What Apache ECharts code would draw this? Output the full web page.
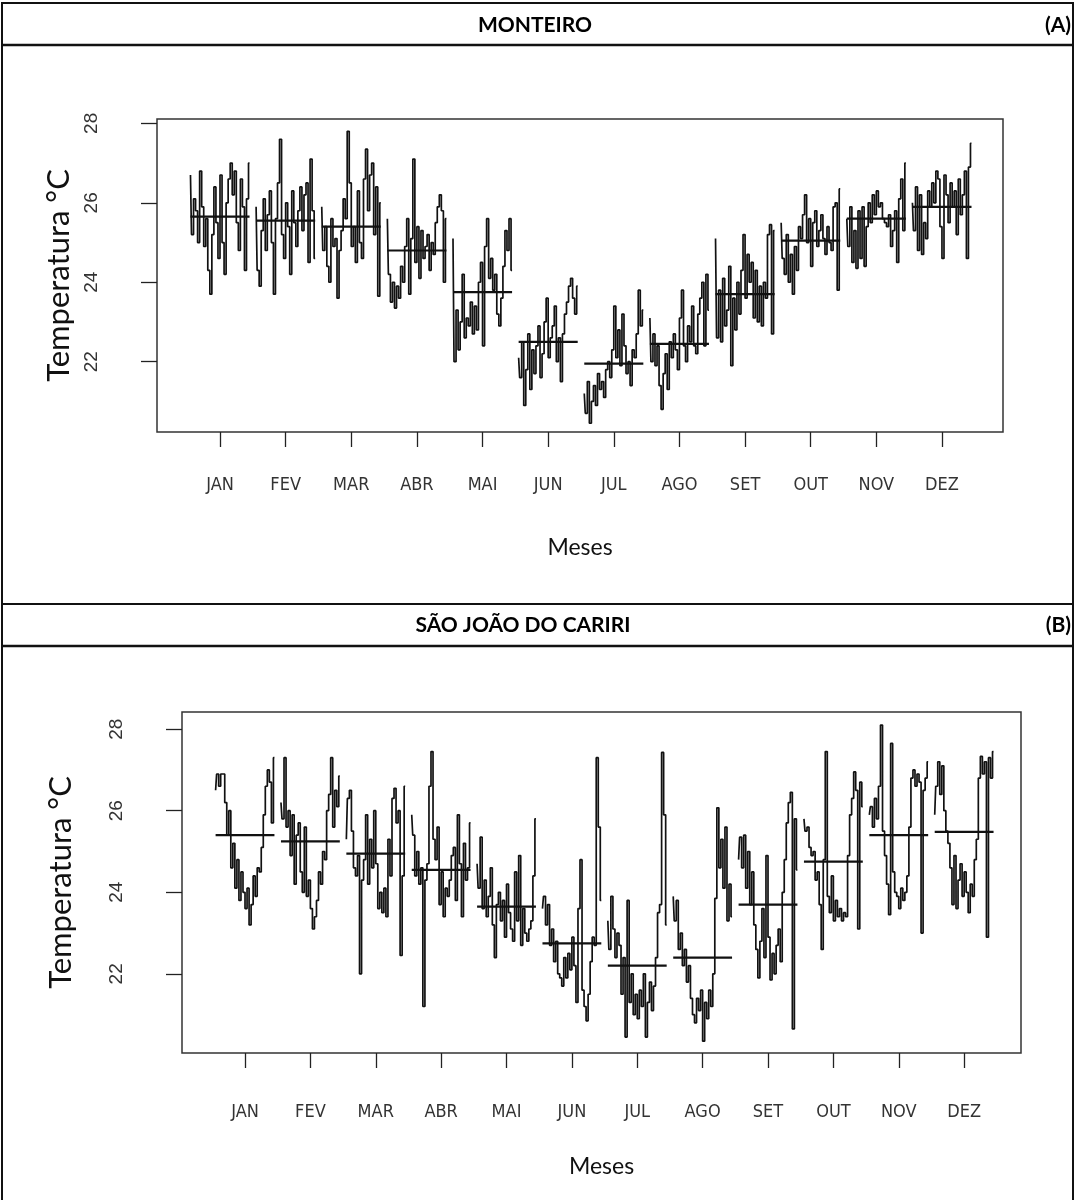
<!DOCTYPE html>
<html><head><meta charset="utf-8">
<script src="https://cdn.jsdelivr.net/npm/echarts@6/dist/echarts.min.js"></script>
<style>html,body{margin:0;padding:0;background:#fff}#c{width:1075px;height:1200px}</style>
</head><body><div id="c"></div>
<script>
// ---------- DATA ----------
const monthLabels = ['JAN','FEV','MAR','ABR','MAI','JUN','JUL','AGO','SET','OUT','NOV','DEZ'];
const yTicks = [22, 24, 26, 28];

// Monteiro (A)
const mtJAN = [26.7,25.2,26.1,25.8,25.0,26.8,25.9,24.9,25.6,24.3,23.7,25.2,26.4,25.5,24.6,26.7,25.0,24.2,26.0,26.6,27.0,26.2,26.8,25.5,24.8,26.6,25.9,24.3,26.1,27.0];
const mtFEV = [25.9,24.3,23.9,25.3,26.1,24.8,25.7,26.3,25.0,23.7,25.6,26.5,27.6,25.2,24.6,26.0,25.4,24.2,26.3,25.5,24.9,25.8,26.4,25.3,26.2,26.5,24.5,27.1,25.8,24.6];
const mtMAR = [25.9,24.8,25.4,24.4,24.0,25.6,24.9,25.1,23.6,24.8,25.3,26.1,25.6,27.8,26.5,24.9,25.4,24.5,26.3,25.0,24.6,26.6,27.35,25.8,26.7,27.0,25.2,26.4,23.65,26.0];
const mtABR = [25.6,24.2,23.5,24.0,23.35,23.9,23.6,24.4,24.0,24.9,25.6,23.7,25.1,27.1,24.5,25.4,24.1,25.3,24.6,24.9,25.2,24.3,25.0,24.7,25.5,25.9,26.2,25.8,24.0,25.6];
const mtMAI = [25.1,22.0,23.3,22.3,23.0,24.2,22.6,23.1,22.9,23.5,22.7,23.4,22.8,24.0,24.5,22.4,24.9,25.6,24.1,24.6,23.8,24.2,23.2,22.9,23.6,24.4,25.3,24.8,25.6,24.3];
const mtJUN = [22.1,21.6,22.5,20.9,21.8,22.7,21.3,22.3,21.7,22.4,22.9,21.6,22.2,23.0,23.6,22.1,22.6,22.9,23.4,22.0,22.6,21.5,22.7,23.2,23.5,23.9,24.1,23.6,23.2,23.9];
const mtJUL = [21.2,20.7,21.5,20.45,21.0,21.4,20.9,21.7,21.3,21.5,21.1,21.8,22.0,21.6,22.3,23.4,22.1,22.8,21.9,23.2,22.4,21.7,22.0,21.4,22.3,22.1,22.7,23.8,22.9,23.3];
const mtAGO = [23.1,22.0,22.7,21.9,22.4,21.4,20.8,21.7,22.2,21.3,22.5,22.1,22.7,22.3,21.8,23.1,23.8,22.4,22.0,22.9,22.5,23.4,22.4,22.2,23.2,23.6,24.0,22.4,24.2,23.3];
const mtSET = [25.1,22.6,23.8,22.5,24.1,22.9,23.3,24.4,21.9,23.6,22.8,24.0,23.2,24.3,25.2,23.6,24.7,24.0,24.5,23.1,24.3,23.0,23.9,22.9,24.0,23.6,25.2,25.45,22.7,25.3];
const mtOUT = [25.5,24.6,24.2,25.2,24.0,24.7,23.7,24.9,24.3,25.4,25.1,25.7,26.2,25.0,25.6,24.4,25.5,25.8,24.9,25.3,25.7,25.1,24.7,25.4,25.0,24.8,25.9,26.0,23.8,26.35];
const mtNOV = [25.6,24.9,25.9,24.5,25.3,24.35,25.8,24.6,25.9,24.4,25.4,26.0,25.5,26.2,25.7,26.3,25.9,26.0,25.6,25.5,25.4,25.7,24.9,25.3,25.8,24.5,26.1,26.6,25.3,27.0];
const mtDEZ = [26.0,25.3,26.4,24.8,26.2,24.7,25.5,25.1,26.3,25.9,26.5,26.0,26.8,26.6,25.4,24.6,26.7,26.2,25.5,26.5,25.9,26.3,25.2,26.6,25.7,26.2,26.8,24.6,26.9,27.5];
const mtMeans = [25.65,25.55,25.4,24.8,23.75,22.5,21.95,22.45,23.7,25.05,25.6,25.9];

// São João do Cariri (B)
const cjJAN = [26.5,26.9,26.6,26.9,26.9,26.2,25.4,26.0,24.6,25.2,24.1,24.8,23.8,24.5,24.0,23.6,24.1,23.2,23.7,24.4,23.9,24.6,24.5,25.1,25.9,26.6,27.0,26.7,25.7,27.3];
const cjFEV = [26.2,25.8,27.3,25.6,26.0,24.9,25.9,24.2,25.4,25.7,24.5,24.0,25.6,23.9,24.3,23.6,23.1,23.4,23.8,24.5,24.2,25.0,24.8,26.0,26.4,27.3,25.6,26.5,26.1,26.85];
const cjMAR = [25.3,26.3,26.5,25.5,24.6,24.4,24.9,22.0,24.3,24.8,25.9,24.2,25.3,24.6,26.0,24.7,23.6,24.0,23.5,24.1,23.4,25.3,24.4,26.3,26.55,25.7,26.0,22.45,24.4,26.6];
const cjABR = [25.9,25.4,24.4,25.0,24.2,24.6,21.2,24.3,24.7,26.6,27.45,25.3,24.8,25.6,23.7,24.5,23.4,24.1,23.9,24.3,24.9,25.1,23.8,25.9,24.7,23.4,25.2,24.3,24.6,25.7];
const cjMAI = [24.7,24.1,25.35,23.6,24.3,23.4,23.9,24.6,23.2,22.4,23.7,24.0,23.3,23.8,22.9,24.2,23.5,23.1,22.8,24.5,23.3,24.9,22.7,23.6,23.0,22.8,23.1,23.3,24.4,25.8];
const cjJUN = [23.6,23.9,23.2,23.7,22.7,23.1,22.3,22.8,22.0,21.9,21.7,22.4,21.9,22.5,22.1,22.9,22.2,21.3,23.6,24.8,21.6,21.2,20.85,21.5,22.3,22.9,22.7,27.3,25.6,23.8];
const cjJUL = [23.3,22.6,23.9,23.1,22.4,23.0,22.7,21.5,22.4,20.45,23.8,21.3,22.0,21.0,21.5,20.9,21.6,21.2,22.0,20.45,21.3,21.8,21.1,21.7,22.4,23.5,23.7,27.43,25.9,23.2];
const cjAGO = [23.9,23.3,23.8,22.6,23.0,22.2,22.6,21.8,22.2,21.4,21.0,20.8,21.4,21.1,21.6,20.35,21.3,20.9,21.6,21.2,22.0,23.85,26.07,24.6,25.3,24.1,25.6,23.3,24.2,23.4];
const cjSET = [24.8,25.35,24.6,25.4,24.1,25.0,23.7,24.5,23.2,22.6,21.9,22.8,23.6,22.4,24.9,22.9,21.85,22.5,22.0,22.7,23.1,22.3,24.0,24.8,25.7,26.2,26.45,20.65,25.8,24.55];
const cjOUT = [25.8,25.5,25.6,25.1,24.9,25.0,24.3,24.5,23.7,22.6,24.8,27.45,23.9,23.5,24.4,23.3,23.8,23.4,23.6,23.3,23.5,23.4,24.9,25.9,26.3,26.95,26.5,23.1,26.7,26.1];
const cjNOV = [25.9,26.1,25.6,26.3,25.8,26.6,28.1,25.5,24.9,24.2,23.45,27.65,24.5,24.0,23.9,23.6,24.1,23.8,24.0,24.4,25.6,26.8,27.0,26.6,26.9,26.7,23.0,26.5,26.8,27.2];
const cjDEZ = [25.9,26.6,27.2,26.4,27.1,26.0,25.5,25.2,24.6,23.7,24.9,23.6,24.3,24.7,23.9,24.5,24.0,23.5,24.2,23.9,24.8,25.3,26.8,27.33,26.9,27.2,22.9,27.3,26.8,27.45];
const cjMeans = [25.4,25.25,24.95,24.55,23.65,22.75,22.2,22.4,23.7,24.75,25.4,25.48];

// ---------- BUILD ----------
const panels = [
  {name:'MONTEIRO', tag:'(A)', months:[mtJAN,mtFEV,mtMAR,mtABR,mtMAI,mtJUN,mtJUL,mtAGO,mtSET,mtOUT,mtNOV,mtDEZ], means:mtMeans},
  {name:'SÃO JOÃO DO CARIRI', tag:'(B)', months:[cjJAN,cjFEV,cjMAR,cjABR,cjMAI,cjJUN,cjJUL,cjAGO,cjSET,cjOUT,cjNOV,cjDEZ], means:cjMeans}
];
const HALF = 0.45;
const monthPos = monthLabels.map((_, i) => i + 1);
const series = [];
panels.forEach((p, k) => {
  p.months.forEach((vals, i) => {
    const c = i + 1, n = vals.length;
    series.push({
      type:'line', xAxisIndex:k, yAxisIndex:k, symbol:'none', silent:true, animation:false,
      step:'middle',
      lineStyle:{color:'#111', width:1.7},
      data: vals.map((v, j) => [c - HALF + j * (2 * HALF) / (n - 1), v])
    });
    series.push({
      type:'line', xAxisIndex:k, yAxisIndex:k, symbol:'none', silent:true, animation:false,
      lineStyle:{color:'#111', width:2.2},
      data: [[c - HALF, p.means[i]], [c + HALF, p.means[i]]]
    });
  });
});

const tickFont = '"Liberation Sans Narrow","DejaVu Sans Condensed","Liberation Sans",Arial,sans-serif';
const titleFont = 'Lato,"Open Sans",sans-serif';

function xAx(k, min, max, margin, nameGap) {
  return {
    type:'value', gridIndex:k, min:min, max:max,
    axisLine:{show:false}, splitLine:{show:false},
    axisTick:{show:true, customValues:monthPos, length:15, lineStyle:{color:'#222', width:1.3}},
    axisLabel:{customValues:monthPos, formatter:v => monthLabels[Math.round(v) - 1], margin:margin,
      fontFamily:tickFont, fontSize:18, color:'#333'},
    name:'Meses', nameLocation:'middle', nameGap:nameGap,
    nameTextStyle:{fontFamily:titleFont, fontSize:23, color:'#111'}
  };
}
function yAx(k, min, max, margin, nameGap) {
  return {
    type:'value', gridIndex:k, min:min, max:max,
    axisLine:{show:false}, splitLine:{show:false},
    axisTick:{show:true, customValues:yTicks, length:16, lineStyle:{color:'#222', width:1.3}},
    axisLabel:{customValues:yTicks, rotate:90, margin:margin, fontFamily:'"Liberation Sans",Arial,sans-serif', fontSize:19, color:'#333'},
    name:'Temperatura °C', nameLocation:'middle', nameGap:nameGap, nameRotate:90,
    nameTextStyle:{fontFamily:titleFont, fontSize:31, color:'#111'}
  };
}

const chart = echarts.init(document.getElementById('c'), null, {renderer:'canvas'});
const bold = 'bold 21px ' + titleFont;
chart.setOption({
  backgroundColor:'#fff',
  animation:false,
  grid:[
    {left:157, top:119, width:846, height:313, show:true, borderColor:'#333', borderWidth:1.5, backgroundColor:'transparent'},
    {left:182, top:712, width:839, height:341, show:true, borderColor:'#333', borderWidth:1.5, backgroundColor:'transparent'}
  ],
  xAxis:[ xAx(0, 0.04, 12.93, 44, 104), xAx(1, 0.036, 12.87, 50, 102) ],
  yAxis:[ yAx(0, 20.23, 28.11, 56, 81), yAx(1, 20.06, 28.42, 56, 106) ],
  series: series,
  graphic:[
    {type:'rect', shape:{x:2, y:3, width:1071, height:1200}, style:{fill:'none', stroke:'#111', lineWidth:2}, silent:true},
    {type:'line', shape:{x1:2, y1:45, x2:1073, y2:45}, style:{stroke:'#111', lineWidth:2.5}, silent:true},
    {type:'line', shape:{x1:2, y1:604, x2:1073, y2:604}, style:{stroke:'#111', lineWidth:2}, silent:true},
    {type:'line', shape:{x1:2, y1:646, x2:1073, y2:646}, style:{stroke:'#111', lineWidth:2.5}, silent:true},
    {type:'text', x:535, y:25, style:{text:panels[0].name, font:bold, fill:'#000', textAlign:'center', textVerticalAlign:'middle', align:'center', verticalAlign:'middle'}, silent:true},
    {type:'text', x:1071, y:25, style:{text:panels[0].tag, font:bold, fill:'#000', textAlign:'right', textVerticalAlign:'middle', align:'right', verticalAlign:'middle'}, silent:true},
    {type:'text', x:523, y:625, style:{text:panels[1].name, font:bold, fill:'#000', textAlign:'center', textVerticalAlign:'middle', align:'center', verticalAlign:'middle'}, silent:true},
    {type:'text', x:1071, y:625, style:{text:panels[1].tag, font:bold, fill:'#000', textAlign:'right', textVerticalAlign:'middle', align:'right', verticalAlign:'middle'}, silent:true}
  ]
});
</script></body></html>
